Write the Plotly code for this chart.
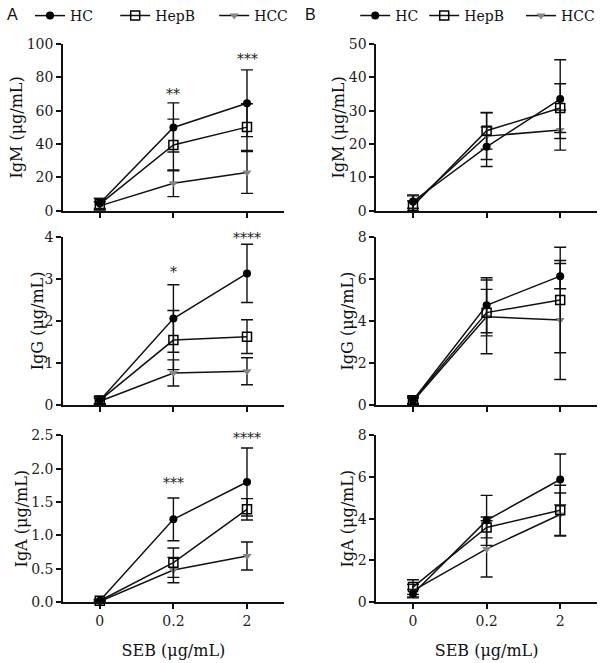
import plotly.graph_objects as go
from plotly.subplots import make_subplots

SERIF = "DejaVu Serif"
HC_COLOR = "#000000"
HCC_COLOR = "#858585"

x_labels = ["0", "0.2", "2"]
groups = ["HC", "HepB", "HCC"]

# panel A (means and SD)
a_igm = {"HC": [4.5, 50, 64.5], "HepB": [4, 39.5, 50.2], "HCC": [3, 16.5, 23]}
a_igm_err = {"HC": [3, 14.7, 20], "HepB": [3.5, 15.5, 14], "HCC": [2.5, 8, 12.5]}
a_igg = {"HC": [0.12, 2.06, 3.13], "HepB": [0.12, 1.55, 1.63], "HCC": [0.1, 0.77, 0.81]}
a_igg_err = {"HC": [0.08, 0.8, 0.69], "HepB": [0.1, 0.7, 0.4], "HCC": [0.07, 0.31, 0.32]}
a_iga = {"HC": [0.02, 1.24, 1.8], "HepB": [0.02, 0.59, 1.39], "HCC": [0.01, 0.48, 0.69]}
a_iga_err = {"HC": [0.02, 0.32, 0.51], "HepB": [0.02, 0.22, 0.16], "HCC": [0.01, 0.19, 0.21]}

# panel B
b_igm = {"HC": [2.8, 19.2, 33.5], "HepB": [1.5, 24, 30.8], "HCC": [2.2, 22.4, 24.2]}
b_igm_err = {"HC": [2, 5.9, 11.8], "HepB": [1.5, 5.5, 7.3], "HCC": [2.3, 7, 6]}
b_igg = {"HC": [0.25, 4.75, 6.13], "HepB": [0.25, 4.4, 5.0], "HCC": [0.2, 4.2, 4.05]}
b_igg_err = {"HC": [0.15, 1.3, 0.6], "HepB": [0.2, 1.1, 2.5], "HCC": [0.15, 1.75, 2.82]}
b_iga = {"HC": [0.4, 3.92, 5.88], "HepB": [0.72, 3.58, 4.4], "HCC": [0.55, 2.55, 4.2]}
b_iga_err = {"HC": [0.2, 1.2, 1.22], "HepB": [0.35, 0.5, 1.2], "HCC": [0.3, 1.35, 1.03]}

# significance stars (panel A only)
stars_igm = [("0.2", 70, "**"), ("2", 91, "***")]
stars_igg = [("0.2", 3.16, "*"), ("2", 3.98, "****")]
stars_iga = [("0.2", 1.78, "***"), ("2", 2.46, "****")]

panels = [
    (1, 1, a_igm, a_igm_err, "IgM (μg/mL)", [0, 100], 20, None, stars_igm),
    (2, 1, a_igg, a_igg_err, "IgG (μg/mL)", [0, 4], 1, None, stars_igg),
    (3, 1, a_iga, a_iga_err, "IgA (μg/mL)", [0, 2.5], 0.5, ".1f", stars_iga),
    (1, 2, b_igm, b_igm_err, "IgM (μg/mL)", [0, 50], 10, None, []),
    (2, 2, b_igg, b_igg_err, "IgG (μg/mL)", [0, 8], 2, None, []),
    (3, 2, b_iga, b_iga_err, "IgA (μg/mL)", [0, 8], 2, None, []),
]

markers = {
    "HC": dict(symbol="circle", size=8, color=HC_COLOR),
    "HepB": dict(symbol="square-open", size=9, color="#000000", line=dict(width=1.5)),
    "HCC": dict(symbol="triangle-down", size=8, color=HCC_COLOR),
}

fig = make_subplots(rows=3, cols=2)

legend_ids = {(1, "HC"): "legend", (1, "HepB"): "legend2", (1, "HCC"): "legend3",
              (2, "HC"): "legend4", (2, "HepB"): "legend5", (2, "HCC"): "legend6"}

for row, col, vals, errs, ytitle, yrange, dtick, fmt, stars in panels:
    for g in ["HCC", "HepB", "HC"]:
        fig.add_trace(
            go.Scatter(
                x=x_labels,
                y=vals[g],
                mode="lines+markers",
                name=g,
                line=dict(color="#111111", width=1.5),
                marker=markers[g],
                error_y=dict(type="data", array=errs[g], color="#111111", thickness=1.4, width=6),
                showlegend=(row == 1),
                legend=legend_ids[(col, g)],
                cliponaxis=False,
            ),
            row=row,
            col=col,
        )
    for xs, ys, txt in stars:
        fig.add_annotation(x=x_labels.index(xs), y=ys, text=txt, showarrow=False,
                           font=dict(family=SERIF, size=14, color="#222"), row=row, col=col)
    # the IgG title in panel A sits closer to its narrow tick labels; placed separately below
    own_title = not (row == 2 and col == 1)
    fig.update_yaxes(
        range=yrange, dtick=dtick, tickformat=fmt,
        title=dict(text=ytitle if own_title else "", font=dict(family=SERIF, size=16), standoff=0),
        row=row, col=col,
    )
    fig.update_xaxes(
        type="category", range=[-0.5, 2.5], showticklabels=(row == 3),
        title=dict(text="SEB (μg/mL)" if row == 3 else "", font=dict(family=SERIF, size=16), standoff=17),
        row=row, col=col,
    )

axis_style = dict(showline=True, linecolor="#111", linewidth=1.5, ticks="outside", ticklen=5, tickwidth=1.5,
                  tickcolor="#111", showgrid=False, zeroline=False, automargin=False,
                  tickfont=dict(family=SERIF, size=14, color="#222"))
fig.update_xaxes(**axis_style)
fig.update_yaxes(**axis_style)

# axis domains to mimic the original panel placement
xdom = {1: [0.105, 0.473], 2: [0.627, 0.995]}
ydom = {1: [0.683, 0.935], 2: [0.389, 0.644], 3: [0.092, 0.344]}
for row in range(1, 4):
    for col in range(1, 3):
        n = (row - 1) * 2 + col
        sfx = "" if n == 1 else str(n)
        fig.layout["xaxis" + sfx].domain = xdom[col]
        fig.layout["yaxis" + sfx].domain = ydom[row]

fig.add_annotation(x=0.062, y=sum(ydom[2]) / 2, xref="paper", yref="paper", text="IgG (μg/mL)",
                   textangle=-90, showarrow=False, font=dict(family=SERIF, size=16, color="#111"),
                   xanchor="center", yanchor="middle")

legend_x = {"legend": 0.05, "legend2": 0.192, "legend3": 0.357,
            "legend4": 0.592, "legend5": 0.707, "legend6": 1.0}
legend_style = dict(orientation="h", yanchor="middle", y=0.977, bgcolor="rgba(0,0,0,0)",
                    font=dict(family=SERIF, size=14, color="#111"), itemclick=False)
fig.update_layout({k: dict(x=v, xanchor=("right" if k == "legend6" else "left"), **legend_style)
                   for k, v in legend_x.items()})

for px, letter in [(0.021, "A"), (0.518, "B")]:
    fig.add_annotation(x=px, y=0.979, xref="paper", yref="paper", text=letter, showarrow=False,
                       font=dict(family="Liberation Sans", size=16, color="#111"),
                       xanchor="center", yanchor="middle")

fig.update_layout(
    width=600,
    height=663,
    margin=dict(l=0, r=0, t=0, b=0),
    plot_bgcolor="white",
    paper_bgcolor="white",
    font=dict(family=SERIF, color="#111"),
)

# the page body has a default 8px margin; drop it so the figure fills the window
fig.write_html("out.html", config={"displayModeBar": False},
               post_script="document.body.style.margin='0px';")
